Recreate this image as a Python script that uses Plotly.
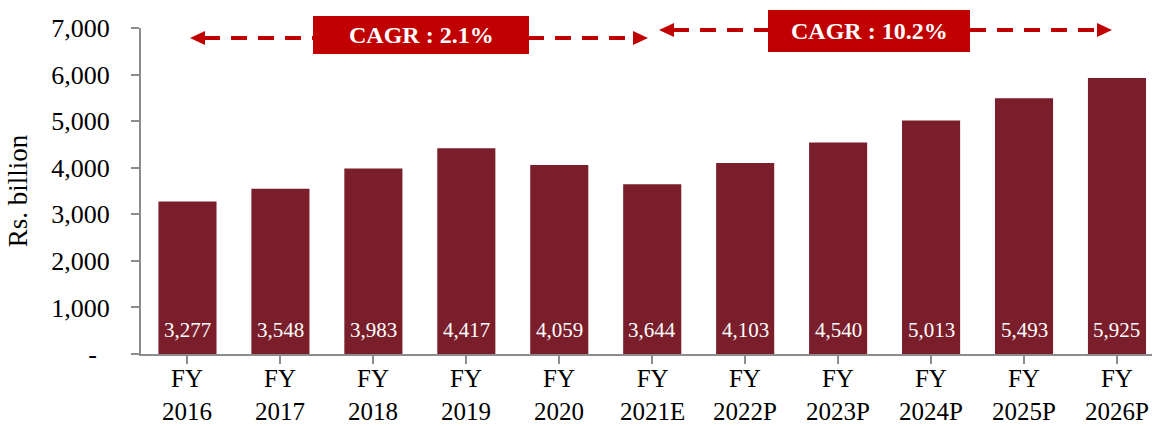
import plotly.graph_objects as go

# Data
fy_line = ["FY"] * 11
year_line = ["2016", "2017", "2018", "2019", "2020", "2021E", "2022P", "2023P", "2024P", "2025P", "2026P"]
values = [3277, 3548, 3983, 4417, 4059, 3644, 4103, 4540, 5013, 5493, 5925]
y_tickvals = [0, 1000, 2000, 3000, 4000, 5000, 6000, 7000]
y_ticktext = ["-\u00a0\u00a0", "1,000", "2,000", "3,000", "4,000", "5,000", "6,000", "7,000"]
cagr_labels = ["CAGR : 2.1%", "CAGR : 10.2%"]

BAR = "#7A1E2B"
RED = "#C00000"
AXIS = "#8C8C8C"
FONT = "Liberation Serif"

W, H = 1152, 426
L, R, T, B = 141, 0, 28, 72
PW, PH = W - L - R, H - T - B
STEP = 92.95  # pixels per category


def px(x):
    return (x - L) / PW


def py(y):
    return (H - B - y) / PH


n = len(values)
fig = go.Figure()
fig.add_trace(go.Bar(
    x=list(range(n)), y=values,
    marker=dict(color=BAR, line=dict(width=0)),
    width=0.625, hoverinfo="skip",
))

annotations = []
for i, v in enumerate(values):
    annotations.append(dict(
        x=i, y=0, xref="x", yref="y", text=f"{v:,}", showarrow=False,
        yanchor="bottom", yshift=10,
        font=dict(family=FONT, size=21, color="white"),
    ))

# two-line category labels under the axis
for i, (a, b) in enumerate(zip(fy_line, year_line)):
    annotations.append(dict(
        x=i, y=py(H), xref="x", yref="paper", text=f"{a}<br>{b}", showarrow=False,
        xanchor="center", yanchor="bottom", borderpad=0,
        font=dict(family=FONT, size=25, color="black"),
    ))

shapes = []


def dashed_arrow(x0, x1, y):
    head_len, half = 15, 7
    shapes.append(dict(type="line", xref="paper", yref="paper",
                       x0=px(x0 + head_len - 1), x1=px(x1 - head_len + 1), y0=py(y), y1=py(y),
                       line=dict(color=RED, width=4, dash="16px,11px")))
    for tip, base in ((x0, x0 + head_len), (x1, x1 - head_len)):
        path = (f"M {px(tip)} {py(y)} L {px(base)} {py(y - half)} "
                f"L {px(base)} {py(y + half)} Z")
        shapes.append(dict(type="path", xref="paper", yref="paper", path=path,
                           fillcolor=RED, line=dict(width=0)))


dashed_arrow(190, 648, 38)
dashed_arrow(659, 1112, 30)

boxes = [(313, 529, 16, 54), (768, 970, 10, 52)]
for (x0, x1, y0, y1), label in zip(boxes, cagr_labels):
    shapes.append(dict(type="rect", xref="paper", yref="paper",
                       x0=px(x0), x1=px(x1), y0=py(y1), y1=py(y0),
                       fillcolor=RED, line=dict(width=0)))
    annotations.append(dict(x=px((x0 + x1) / 2), y=py((y0 + y1) / 2), xref="paper", yref="paper",
                            text=f"<b>{label}</b>", showarrow=False,
                            xanchor="center", yanchor="middle",
                            font=dict(family=FONT, size=24, color="white")))

fig.update_layout(
    width=W, height=H,
    margin=dict(l=L, r=R, t=T, b=B, pad=0, autoexpand=False),
    paper_bgcolor="white", plot_bgcolor="white",
    showlegend=False,
    shapes=shapes, annotations=annotations,
    font=dict(family=FONT, size=26, color="black"),
    xaxis=dict(
        range=[-0.5, -0.5 + PW / STEP],
        tickmode="array", tickvals=list(range(n)), ticktext=[""] * n,
        tickson="boundaries", ticks="outside", ticklen=8, tickcolor=AXIS, tickwidth=2,
        showline=True, linecolor=AXIS, linewidth=2, showgrid=False, zeroline=False,
        automargin=False, fixedrange=True,
    ),
    yaxis=dict(
        range=[0, 7000],
        tickmode="array", tickvals=y_tickvals, ticktext=y_ticktext,
        ticks="outside", ticklen=8, tickcolor=AXIS, tickwidth=2,
        showline=True, linecolor=AXIS, linewidth=2, showgrid=False, zeroline=False,
        tickfont=dict(family=FONT, size=26, color="black"),
        ticklabelstandoff=16, automargin=False,
        title=dict(text="Rs. billion", font=dict(family=FONT, size=27, color="black"), standoff=16),
        fixedrange=True,
    ),
)

fig.write_html("out.html", config={"displayModeBar": False})
